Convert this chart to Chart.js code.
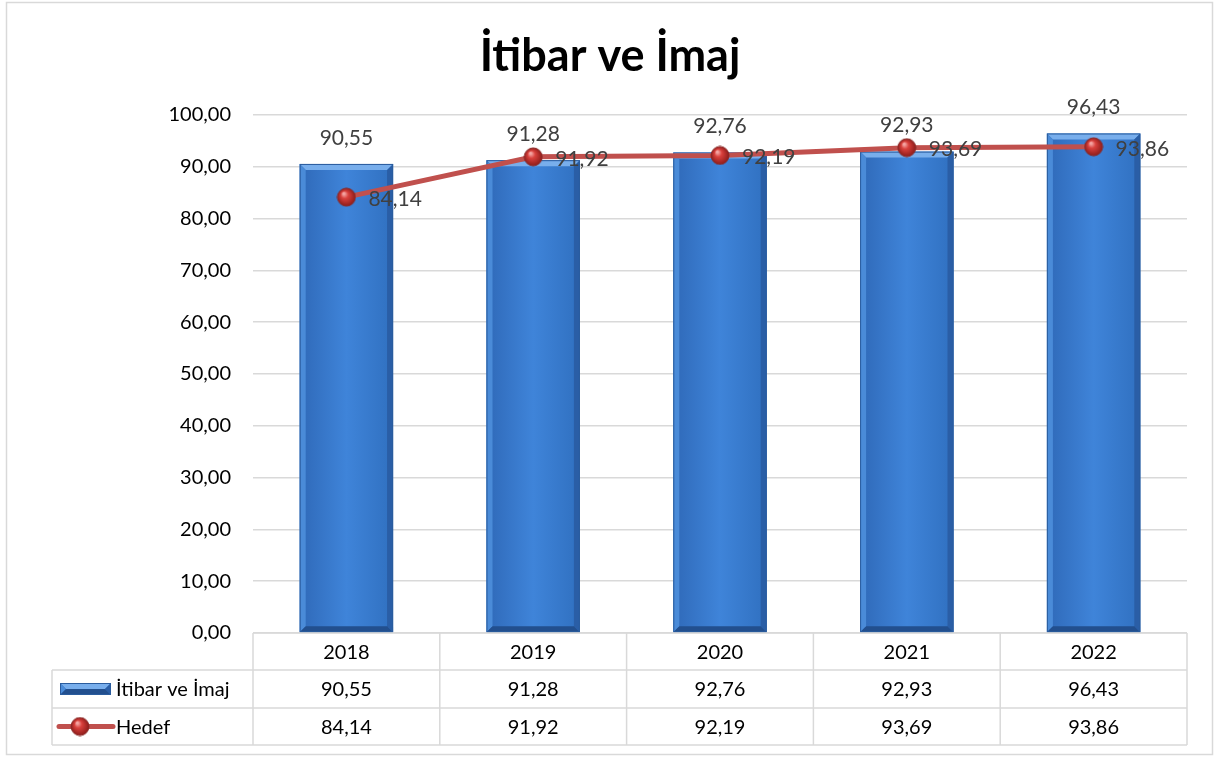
<!DOCTYPE html>
<html>
<head>
<meta charset="utf-8">
<script src="https://cdn.jsdelivr.net/npm/chart.js@4"></script>
<style>
  html, body { margin: 0; padding: 0; background: #fff; }
  #wrap { width: 1216px; height: 760px; position: relative; }
</style>
</head>
<body>
<div id="wrap"><canvas id="chart" width="1216" height="760"></canvas></div>
<script>
// chart data
const years = ['2018', '2019', '2020', '2021', '2022'];
const itibarValues = [90.55, 91.28, 92.76, 92.93, 96.43];
const hedefValues = [84.14, 91.92, 92.19, 93.69, 93.86];
const seriesNames = ['İtibar ve İmaj', 'Hedef'];
const chartTitle = 'İtibar ve İmaj';

const FONT = 'Lato, "Open Sans", sans-serif';
const fmt = v => v.toFixed(2).replace('.', ',');

// red sphere used as point marker
function makeSphere(r) {
  const c = document.createElement('canvas');
  c.width = c.height = r * 2 + 2;
  const g = c.getContext('2d');
  const cx = r + 1, cy = r + 1;
  const grad = g.createRadialGradient(cx - r * 0.3, cy - r * 0.4, r * 0.1, cx, cy, r);
  grad.addColorStop(0, '#f4a6a4');
  grad.addColorStop(0.35, '#d9403c');
  grad.addColorStop(1, '#8e1c1a');
  g.beginPath();
  g.arc(cx, cy, r, 0, Math.PI * 2);
  g.fillStyle = grad;
  g.fill();
  g.lineWidth = 1;
  g.strokeStyle = '#8a2a28';
  g.stroke();
  return c;
}
const sphere = makeSphere(9);

// beveled blue bar
function drawBevelBar(ctx, x0, y0, x1, y1) {
  const w = x1 - x0, h = y1 - y0;
  const b = Math.min(6, w / 4, h / 2);
  const grad = ctx.createLinearGradient(x0, 0, x1, 0);
  grad.addColorStop(0, '#2f69b8');
  grad.addColorStop(0.5, '#3f84d9');
  grad.addColorStop(1, '#3070c0');
  ctx.fillStyle = grad;
  ctx.fillRect(x0, y0, w, h);
  // top bevel
  ctx.beginPath();
  ctx.moveTo(x0, y0); ctx.lineTo(x1, y0); ctx.lineTo(x1 - b, y0 + b); ctx.lineTo(x0 + b, y0 + b); ctx.closePath();
  ctx.fillStyle = '#78aeec';
  ctx.fill();
  // left bevel
  ctx.beginPath();
  ctx.moveTo(x0, y0); ctx.lineTo(x0 + b, y0 + b); ctx.lineTo(x0 + b, y1 - b); ctx.lineTo(x0, y1); ctx.closePath();
  ctx.fillStyle = '#4a8bd8';
  ctx.fill();
  // right bevel
  ctx.beginPath();
  ctx.moveTo(x1, y0); ctx.lineTo(x1 - b, y0 + b); ctx.lineTo(x1 - b, y1 - b); ctx.lineTo(x1, y1); ctx.closePath();
  ctx.fillStyle = '#2a5ea6';
  ctx.fill();
  // bottom bevel
  ctx.beginPath();
  ctx.moveTo(x0, y1); ctx.lineTo(x1, y1); ctx.lineTo(x1 - b, y1 - b); ctx.lineTo(x0 + b, y1 - b); ctx.closePath();
  ctx.fillStyle = '#224f8e';
  ctx.fill();
  ctx.strokeStyle = '#2a5c9e';
  ctx.lineWidth = 1;
  ctx.strokeRect(x0 + 0.5, y0 + 0.5, w - 1, h - 1);
}

// draws frame, title, bars, labels and the data table
const decorPlugin = {
  id: 'decor',
  beforeDraw(chart) {
    const ctx = chart.ctx;
    ctx.save();
    ctx.fillStyle = '#fff';
    ctx.fillRect(0, 0, chart.width, chart.height);
    ctx.strokeStyle = '#d9d9d9';
    ctx.lineWidth = 1.5;
    ctx.strokeRect(6.5, 2.5, 1206, 752);
    ctx.fillStyle = '#000';
    ctx.font = 'bold 45px ' + FONT;
    ctx.textAlign = 'center';
    ctx.textBaseline = 'middle';
    ctx.fillText(chartTitle, 610, 56);
    ctx.restore();
  },
  afterDatasetDraw(chart, args) {
    if (args.index !== 0) return;
    const ctx = chart.ctx;
    ctx.save();
    args.meta.data.forEach(bar => {
      drawBevelBar(ctx, bar.x - bar.width / 2, bar.y, bar.x + bar.width / 2, bar.base);
    });
    ctx.restore();
  },
  afterDatasetsDraw(chart) {
    const ctx = chart.ctx;
    const xs = chart.scales.x;
    const area = chart.chartArea;
    ctx.save();
    ctx.font = '21px ' + FONT;
    ctx.fillStyle = '#404040';
    ctx.textBaseline = 'middle';
    // bar labels
    ctx.textAlign = 'center';
    chart.getDatasetMeta(0).data.forEach((bar, i) => {
      ctx.fillText(fmt(itibarValues[i]), bar.x, bar.y - 26);
    });
    // line labels
    ctx.textAlign = 'left';
    chart.getDatasetMeta(1).data.forEach((pt, i) => {
      ctx.fillText(fmt(hedefValues[i]), pt.x + 22, pt.y + 2);
    });

    // data table
    ctx.font = '20px ' + FONT;
    const colW = (area.right - area.left) / years.length;
    const rows = [area.bottom, area.bottom + 37, area.bottom + 75, area.bottom + 112];
    const leftX = 52;
    ctx.strokeStyle = '#d9d9d9';
    ctx.lineWidth = 1.5;
    ctx.beginPath();
    // horizontal lines
    ctx.moveTo(area.left, rows[0]); ctx.lineTo(area.right, rows[0]);
    for (let r = 1; r < rows.length; r++) {
      ctx.moveTo(leftX, rows[r]); ctx.lineTo(area.right, rows[r]);
    }
    // vertical lines
    for (let c = 0; c <= years.length; c++) {
      const x = area.left + c * colW;
      ctx.moveTo(x, rows[0]); ctx.lineTo(x, rows[3]);
    }
    ctx.moveTo(leftX, rows[1]); ctx.lineTo(leftX, rows[3]);
    ctx.stroke();

    ctx.fillStyle = '#000';
    ctx.textAlign = 'center';
    years.forEach((y, i) => {
      const cx = xs.getPixelForValue(i);
      ctx.fillText(y, cx, (rows[0] + rows[1]) / 2 + 1);
      ctx.fillText(fmt(itibarValues[i]), cx, (rows[1] + rows[2]) / 2 + 1);
      ctx.fillText(fmt(hedefValues[i]), cx, (rows[2] + rows[3]) / 2 + 1);
    });

    // legend keys in the table
    const r1 = (rows[1] + rows[2]) / 2;
    const r2 = (rows[2] + rows[3]) / 2;
    drawBevelBar(ctx, 60, r1 - 6, 111, r1 + 6);
    ctx.strokeStyle = '#c0504d';
    ctx.lineWidth = 5;
    ctx.lineCap = 'round';
    ctx.beginPath();
    ctx.moveTo(59, r2); ctx.lineTo(113, r2);
    ctx.stroke();
    ctx.drawImage(sphere, 80 - sphere.width / 2, r2 - sphere.height / 2);
    ctx.fillStyle = '#000';
    ctx.textAlign = 'left';
    ctx.fillText(seriesNames[0], 116, r1 + 1);
    ctx.fillText(seriesNames[1], 116, r2 + 1);
    ctx.restore();
  }
};

new Chart(document.getElementById('chart'), {
  data: {
    labels: years,
    datasets: [
      {
        type: 'bar',
        label: seriesNames[0],
        data: itibarValues,
        backgroundColor: 'rgba(0,0,0,0)',
        barPercentage: 0.5,
        categoryPercentage: 1,
        order: 1
      },
      {
        type: 'line',
        label: seriesNames[1],
        data: hedefValues,
        borderColor: '#c0504d',
        borderWidth: 5,
        pointStyle: sphere,
        pointRadius: 9,
        tension: 0,
        order: 0
      }
    ]
  },
  options: {
    responsive: false,
    animation: false,
    layout: { padding: { left: 53, right: 29, top: 115, bottom: 127 } },
    plugins: {
      legend: { display: false },
      tooltip: { enabled: false }
    },
    scales: {
      x: { display: false },
      y: {
        min: 0,
        max: 100,
        afterFit: s => { s.width = 200; },
        ticks: {
          stepSize: 10,
          padding: 22,
          color: '#000',
          font: { family: FONT, size: 20 },
          callback: v => fmt(v)
        },
        grid: { color: '#d9d9d9', lineWidth: 1.5, drawTicks: false },
        border: { display: false }
      }
    }
  },
  plugins: [decorPlugin]
});
</script>
</body>
</html>
